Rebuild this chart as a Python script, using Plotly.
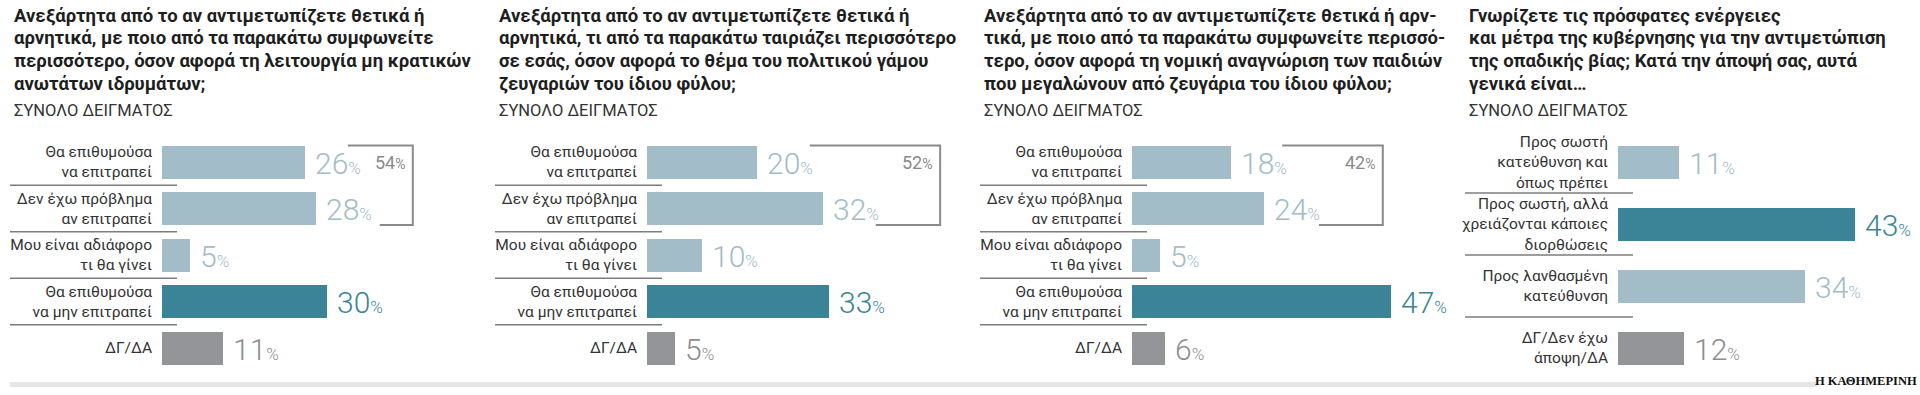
import plotly.graph_objects as go

# ---------------- data ----------------
titles = [
    ["Ανεξάρτητα από το αν αντιμετωπίζετε θετικά ή",
     "αρνητικά, με ποιο από τα παρακάτω συμφωνείτε",
     "περισσότερο, όσον αφορά τη λειτουργία μη κρατικών",
     "ανωτάτων ιδρυμάτων;"],
    ["Ανεξάρτητα από το αν αντιμετωπίζετε θετικά ή",
     "αρνητικά, τι από τα παρακάτω ταιριάζει περισσότερο",
     "σε εσάς, όσον αφορά το θέμα του πολιτικού γάμου",
     "ζευγαριών του ίδιου φύλου;"],
    ["Ανεξάρτητα από το αν αντιμετωπίζετε θετικά ή αρν-",
     "τικά, με ποιο από τα παρακάτω συμφωνείτε περισσό-",
     "τερο, όσον αφορά τη νομική αναγνώριση των παιδιών",
     "που μεγαλώνουν από ζευγάρια του ίδιου φύλου;"],
    ["Γνωρίζετε τις πρόσφατες ενέργειες",
     "και μέτρα της κυβέρνησης για την αντιμετώπιση",
     "της οπαδικής βίας; Κατά την άποψή σας, αυτά",
     "γενικά είναι…"],
]
subtitle = "ΣΥΝΟΛΟ ΔΕΙΓΜΑΤΟΣ"

cats_allow = ["Θα επιθυμούσα<br>να επιτραπεί",
              "Δεν έχω πρόβλημα<br>αν επιτραπεί",
              "Μου είναι αδιάφορο<br>τι θα γίνει",
              "Θα επιθυμούσα<br>να μην επιτραπεί",
              "ΔΓ/ΔΑ"]
cats_gov = ["Προς σωστή<br>κατεύθυνση και<br>όπως πρέπει",
            "Προς σωστή, αλλά<br>χρειάζονται κάποιες<br>διορθώσεις",
            "Προς λανθασμένη<br>κατεύθυνση",
            "ΔΓ/Δεν έχω<br>άποψη/ΔΑ"]

values_p1 = [26, 28, 5, 30, 11]
values_p2 = [20, 32, 10, 33, 5]
values_p3 = [18, 24, 5, 47, 6]
values_p4 = [11, 43, 34, 12]

source = "Η ΚΑΘΗΜΕΡΙΝΗ"

# ---------------- styles ----------------
W, H = 1920, 395
LIGHT, DARK, GREY = "#a2bcc8", "#3b8498", "#939598"
LABEL_GREY = "#8d8d8f"
BRACKET = "#8a8a8a"
FONT = "Roboto"

panels = [
    dict(cats=cats_allow, vals=values_p1, colors=[LIGHT, LIGHT, LIGHT, DARK, GREY],
         text_x=12, bar_x=162, spacing=46.5, bracket=(33.8, 39.6, 45.6)),
    dict(cats=cats_allow, vals=values_p2, colors=[LIGHT, LIGHT, LIGHT, DARK, GREY],
         text_x=497, bar_x=647, spacing=46.5, bracket=(29.6, 41.6, 53.3)),
    dict(cats=cats_allow, vals=values_p3, colors=[LIGHT, LIGHT, LIGHT, DARK, GREY],
         text_x=982, bar_x=1132, spacing=46.5, bracket=(27.3, 34.0, 45.6)),
    dict(cats=cats_gov, vals=values_p4, colors=[LIGHT, DARK, LIGHT, GREY],
         text_x=1467, bar_x=1618, spacing=62.0, bracket=None),
]
PX_PER_PCT = 5.5
FIRST_ROW_PX = 162
BAR_PX = 33

fig = go.Figure()
shapes, annotations = [], []

for i, p in enumerate(panels):
    k = i + 1
    xa, ya = f"x{k}", f"y{k}"
    n = len(p["vals"])
    sp = p["spacing"]
    bw = BAR_PX / sp
    dom_end_px = 480 * (i + 1) - 4
    fig.add_trace(go.Bar(
        x=p["vals"], y=list(range(n)), orientation="h",
        marker=dict(color=p["colors"], line=dict(width=0)),
        width=bw, xaxis=xa, yaxis=ya, hoverinfo="skip", showlegend=False))
    lay_x = "xaxis" if k == 1 else f"xaxis{k}"
    lay_y = "yaxis" if k == 1 else f"yaxis{k}"
    top = -FIRST_ROW_PX / sp
    bottom = (H - FIRST_ROW_PX) / sp
    fig.update_layout(**{
        lay_x: dict(domain=[p["bar_x"] / W, dom_end_px / W],
                    range=[0, (dom_end_px - p["bar_x"]) / PX_PER_PCT],
                    visible=False, anchor=ya, fixedrange=True),
        lay_y: dict(domain=[0, 1], range=[bottom, top], anchor=xa,
                    tickvals=list(range(n)), ticktext=p["cats"],
                    ticks="", showgrid=False, zeroline=False, showline=False,
                    ticklabelstandoff=9, automargin=False,
                    tickfont=dict(family=FONT, size=15.5, color="#333333")),
    })
    # value labels
    for j, v in enumerate(p["vals"]):
        col = p["colors"][j]
        tcol = LABEL_GREY if col == GREY else col
        annotations.append(dict(
            x=v, y=j, xref=xa, yref=ya, xanchor="left", yanchor="middle",
            xshift=8, yshift=-1, showarrow=False,
            text=f"{v}<span style='font-size:17px'>%</span>",
            font=dict(family=FONT, size=30, color=tcol, weight=300)))
    # separators
    for j in range(n - 1):
        shapes.append(dict(type="line", xref="paper", yref=ya,
                           x0=(p["text_x"] - 2) / W, x1=(p["bar_x"] + 15) / W,
                           y0=j + 0.5, y1=j + 0.5,
                           line=dict(color="#7d7d7d", width=1.5)))
    # bracket + sum
    if p["bracket"]:
        t0, b0, r = p["bracket"]
        half = bw / 2
        shapes.append(dict(type="path", xref=xa, yref=ya,
                           path=f"M {t0},{-half} L {r},{-half} L {r},{1 + half} L {b0},{1 + half}",
                           line=dict(color=BRACKET, width=2)))
        s = p["vals"][0] + p["vals"][1]
        annotations.append(dict(
            x=r, y=0, xref=xa, yref=ya, xanchor="right", yanchor="middle",
            xshift=-5, showarrow=False,
            text=f"{s}<span style='font-size:14px'>%</span>",
            font=dict(family=FONT, size=18, color=BRACKET)))
    # title lines
    for li, line in enumerate(titles[i]):
        annotations.append(dict(
            x=p["text_x"] / W, y=1 - (16 + 22.5 * li) / H, xref="paper", yref="paper",
            xanchor="left", yanchor="middle", showarrow=False, text=line,
            font=dict(family=FONT, size=18.5, color="#1e1e1e", weight="bold")))
    annotations.append(dict(
        x=p["text_x"] / W, y=1 - 111 / H, xref="paper", yref="paper",
        xanchor="left", yanchor="middle", showarrow=False, text=subtitle,
        font=dict(family=FONT, size=16.5, color="#333333")))

# footer band and source
shapes.append(dict(type="rect", xref="paper", yref="paper",
                   x0=10 / W, x1=1817 / W, y0=1 - 387 / H, y1=1 - 382 / H,
                   fillcolor="#e6e6e6", line=dict(width=0), layer="below"))
annotations.append(dict(x=1919 / W, y=1 - 381 / H, xref="paper", yref="paper",
                        xanchor="right", yanchor="middle", showarrow=False,
                        text=source,
                        font=dict(family="Liberation Serif", size=12.5, color="#111111",
                                  weight="bold")))

fig.update_layout(width=W, height=H, margin=dict(l=0, r=0, t=0, b=0),
                  paper_bgcolor="white", plot_bgcolor="rgba(0,0,0,0)",
                  shapes=shapes, annotations=annotations, bargap=0,
                  font=dict(family=FONT))
fig.write_html("out.html", config=dict(displayModeBar=False),
               post_script="document.body.style.margin='0';document.body.style.overflow='hidden';")
